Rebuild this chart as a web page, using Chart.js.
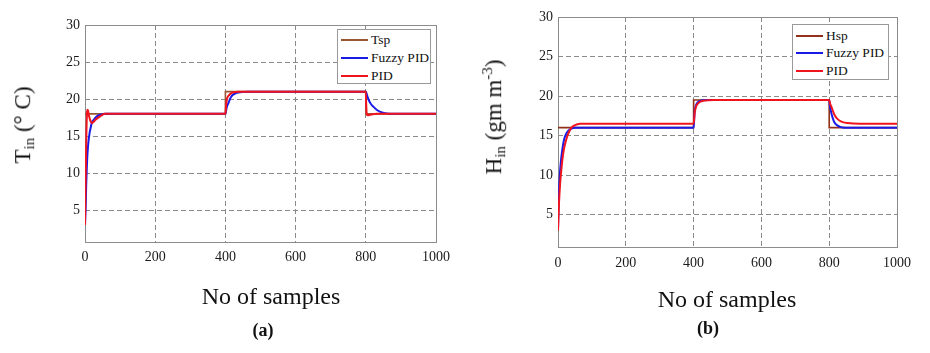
<!DOCTYPE html>
<html>
<head>
<meta charset="utf-8">
<script src="https://cdn.jsdelivr.net/npm/chart.js@4.4.1/dist/chart.umd.min.js"></script>
<style>
  html, body { margin:0; padding:0; background:#fff; }
  #wrap { position:relative; width:930px; height:353px; overflow:hidden; font-family:"Liberation Serif","Times New Roman",serif; color:#111; }
  canvas { position:absolute; top:0; }
  .t { position:absolute; transform:translate(-50%,-50%); white-space:nowrap; line-height:1; }
  .yt { position:absolute; transform:translate(-50%,-50%) rotate(-90deg); white-space:nowrap; line-height:1; font-size:23px; }
  .xt { font-size:24px; }
  .cap { font-size:18px; font-weight:bold; }
  .legend { position:absolute; background:#fff; border:1px solid #999; box-sizing:border-box; }
  .li { position:absolute; left:3px; height:0; }
  .li span.ln { position:absolute; left:0; top:-1px; width:27px; height:2px; }
  .li span.tx { position:absolute; left:30px; top:-8px; font-size:13.5px; line-height:16px; white-space:nowrap; }
  sub { font-size:65%; vertical-align:-0.25em; }
  sup { font-size:65%; vertical-align:0.6em; }
</style>
</head>
<body>
<div id="wrap">
  <canvas id="ca" width="465" height="353" style="left:0;width:465px;height:353px"></canvas>
  <canvas id="cb" width="465" height="353" style="left:465px;width:465px;height:353px"></canvas>

  <div class="yt" style="left:24px;top:125px">T<sub>in</sub> (° C)</div>
  <div class="yt" style="left:494px;top:117px">H<sub>in</sub> (gm m<sup>-3</sup>)</div>
  <div class="t xt" style="left:271px;top:296px">No of samples</div>
  <div class="t xt" style="left:727px;top:299px">No of samples</div>
  <div class="t cap" style="left:263px;top:330px">(a)</div>
  <div class="t cap" style="left:708px;top:328px">(b)</div>

  <div class="legend" style="left:337px;top:29px;width:94px;height:55px">
    <div class="li" style="top:10px"><span class="ln" style="background:#9A5634"></span><span class="tx">Tsp</span></div>
    <div class="li" style="top:28px"><span class="ln" style="background:#1A1AE6"></span><span class="tx">Fuzzy PID</span></div>
    <div class="li" style="top:46px"><span class="ln" style="background:#F0141E"></span><span class="tx">PID</span></div>
  </div>
  <div class="legend" style="left:792px;top:24px;width:97px;height:56px">
    <div class="li" style="top:11px"><span class="ln" style="background:#93301A"></span><span class="tx">Hsp</span></div>
    <div class="li" style="top:28px"><span class="ln" style="background:#1A1AE6"></span><span class="tx">Fuzzy PID</span></div>
    <div class="li" style="top:46px"><span class="ln" style="background:#F0141E"></span><span class="tx">PID</span></div>
  </div>
</div>
<script>
// ---------- data (a): inside temperature ----------
const xTicks = [0, 200, 400, 600, 800, 1000];
const yTicks = [5, 10, 15, 20, 25, 30];

const tspX = [0, 400, 400, 800, 800, 1000];
const tspY = [18, 18, 21, 21, 18, 18];

const fuzzyAX = [0, 2, 3, 5, 7, 9.5, 13, 16, 19, 25, 33, 45, 57, 400, 403, 406, 409, 413, 417, 422, 430, 437, 450, 465, 800, 805, 810, 815, 821, 830, 840, 855, 870, 880, 1000];
const fuzzyAY = [3, 5.5, 7.7, 10.5, 12.6, 14.1, 15.4, 16.1, 16.75, 17.2, 17.65, 17.9, 18, 18, 18.7, 19.2, 19.5, 20.0, 20.35, 20.6, 20.8, 20.9, 20.97, 21, 21, 20.3, 19.7, 19.3, 19.0, 18.6, 18.3, 18.1, 18.02, 18, 18];

const pidAX = [0, 2, 4, 6, 7, 9, 12, 16, 20, 25, 30, 38, 47, 57, 400, 402, 405, 410, 417, 425, 435, 800, 801, 803, 806, 812, 820, 830, 1000];
const pidAY = [3, 10, 15.5, 18.3, 18.55, 18.4, 17.6, 17.0, 16.75, 16.95, 17.2, 17.5, 17.8, 18, 18, 19.2, 20.1, 20.5, 20.8, 20.93, 21, 21, 19.5, 17.9, 17.8, 17.88, 17.96, 18, 18];

// ---------- data (b): inside humidity ----------
const hspX = [0, 400, 400, 800, 800, 1000];
const hspY = [16, 16, 19.5, 19.5, 16, 16];

const fuzzyBX = [0, 2, 5, 8, 12, 16, 20, 25, 30, 38, 50, 400, 403, 406, 410, 415, 420, 430, 440, 800, 802, 805, 809, 813, 818, 825, 832, 840, 850, 1000];
const fuzzyBY = [3, 6.9, 9.8, 11.5, 13.0, 14.1, 14.8, 15.3, 15.6, 15.85, 16, 16, 17.9, 18.7, 19.1, 19.3, 19.4, 19.47, 19.5, 19.5, 18.8, 18.1, 17.4, 16.9, 16.5, 16.25, 16.1, 16.03, 16, 16];

const pidBX = [0, 3, 6, 9, 13, 18, 24, 30, 38, 45, 55, 65, 400, 403, 406, 410, 415, 420, 430, 445, 460, 800, 803, 807, 812, 817, 822, 830, 840, 855, 871, 890, 1000];
const pidBY = [3, 6.5, 8.8, 10.3, 12.0, 13.4, 14.45, 15.2, 15.9, 16.2, 16.4, 16.5, 16.5, 17.8, 18.5, 18.9, 19.15, 19.3, 19.42, 19.48, 19.5, 19.5, 19.0, 18.6, 18.0, 17.5, 17.2, 16.9, 16.7, 16.58, 16.52, 16.5, 16.5];

// ---------- helpers ----------
const pts = (xs, ys) => xs.map((x, i) => ({x: x, y: ys[i]}));
const FONT = {family: "'Liberation Serif','Times New Roman',serif", size: 14};

const framePlugin = {
  id: 'frame',
  beforeDatasetsDraw(chart) {
    const a = chart.chartArea, c = chart.ctx;
    c.save();
    c.strokeStyle = '#8c8c8c';
    c.lineWidth = 1;
    c.strokeRect(Math.round(a.left) + 0.5, Math.round(a.top) + 0.5, Math.round(a.right - a.left), Math.round(a.bottom - a.top));
    c.restore();
  }
};

function makeChart(id, sets, geo) {
  return new Chart(document.getElementById(id), {
    type: 'line',
    data: {
      datasets: [
        {label: sets[0].label, data: pts(sets[0].x, sets[0].y), borderColor: sets[0].color, borderWidth: 1.6, order: 2, tension: 0},
        {label: 'Fuzzy PID', data: pts(sets[1].x, sets[1].y), borderColor: '#1A1AE6', borderWidth: 2, order: 1, cubicInterpolationMode: 'monotone'},
        {label: 'PID', data: pts(sets[2].x, sets[2].y), borderColor: '#F0141E', borderWidth: 2, order: 0, cubicInterpolationMode: 'monotone'}
      ]
    },
    options: {
      responsive: false,
      animation: false,
      parsing: false,
      elements: {point: {radius: 0}},
      layout: {padding: {left: 0, top: geo.top, right: geo.right, bottom: 0}},
      plugins: {legend: {display: false}, tooltip: {enabled: false}, title: {display: false}},
      scales: {
        x: {
          type: 'linear', min: 0, max: 1000,
          afterBuildTicks: s => { s.ticks = xTicks.map(v => ({value: v})); },
          afterFit: s => { s.height = geo.xh; },
          ticks: {font: FONT, color: '#1a1a1a', padding: geo.xpad, maxRotation: 0, callback: v => String(v)},
          grid: {color: '#8a8a8a', lineWidth: 1, drawTicks: false},
          border: {display: false, dash: [5, 3]}
        },
        y: {
          type: 'linear', min: geo.ymin, max: 30,
          afterBuildTicks: s => { s.ticks = yTicks.map(v => ({value: v})); },
          afterFit: s => { s.width = geo.yw; },
          ticks: {font: FONT, color: '#1a1a1a', padding: 5, callback: v => String(v)},
          grid: {color: '#8a8a8a', lineWidth: 1, drawTicks: false},
          border: {display: false, dash: [5, 3]}
        }
      }
    },
    plugins: [framePlugin]
  });
}

makeChart('ca', [
  {label: 'Tsp', x: tspX, y: tspY, color: '#9A5634'},
  {x: fuzzyAX, y: fuzzyAY},
  {x: pidAX, y: pidAY}
], {top: 25, right: 29, xh: 111, yw: 85, ymin: 0.7, xpad: 7});

makeChart('cb', [
  {label: 'Hsp', x: hspX, y: hspY, color: '#93301A'},
  {x: fuzzyBX, y: fuzzyBY},
  {x: pidBX, y: pidBY}
], {top: 17, right: 33, xh: 106, yw: 93, ymin: 0.9, xpad: 8});
</script>
</body>
</html>
